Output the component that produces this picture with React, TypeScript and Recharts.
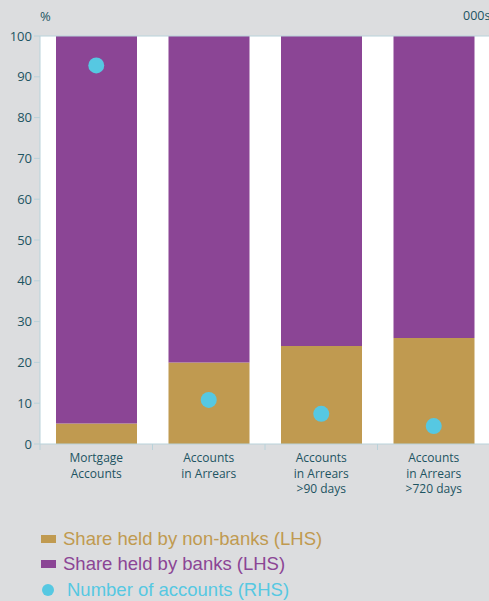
import { ComposedChart, Bar, Line, XAxis, YAxis, CartesianGrid, ReferenceLine } from "recharts";

const categories = [
  "Mortgage\nAccounts",
  "Accounts\nin Arrears",
  "Accounts\nin Arrears\n>90 days",
  "Accounts\nin Arrears\n>720 days",
];
const nonBanks = [5, 20, 24, 26];
const banks = [95, 80, 76, 74];
const accounts = [92.8, 10.8, 7.4, 4.4];
const leftTicks = [0, 10, 20, 30, 40, 50, 60, 70, 80, 90, 100];

const data = categories.map((name, i) => ({
  name,
  nonBanks: nonBanks[i],
  banks: banks[i],
  accounts: accounts[i],
}));

const BG = "#dcdddf";
const AXIS = "#b9d2da";
const TEXT = "#1d5462";
const TAN = "#c09a50";
const PURPLE = "#8b4595";
const CYAN = "#56c8e2";
const BAND = 112.5;

function CategoryTick(props: any) {
  const { x, y, payload } = props;
  const lines = String(payload.value).split("\n");
  return (
    <g>
      <line x1={x - BAND / 2} x2={x - BAND / 2} y1={y - 8} y2={y - 2} stroke={AXIS} />
      <text x={x} y={y + 10} textAnchor="middle" fill={TEXT} fontSize={12} fontFamily="Open Sans">
        {lines.map((l, i) => (
          <tspan key={i} x={x} dy={i === 0 ? 0 : 15.5}>
            {l}
          </tspan>
        ))}
      </text>
    </g>
  );
}

export default function App() {
  return (
    <div style={{ position: "absolute", left: 0, top: 0, width: 489, height: 601, background: BG, overflow: "hidden" }}>
      <div style={{ position: "absolute", left: 40, top: 7, fontFamily: "Open Sans", fontSize: 13, color: TEXT }}>%</div>
      <div style={{ position: "absolute", left: 463, top: 7, fontFamily: "Open Sans", fontSize: 12.5, color: TEXT }}>000s</div>
      <ComposedChart
        width={490}
        height={510}
        data={data}
        margin={{ top: 36, right: 0, left: 0, bottom: 0 }}
        barSize={81}
      >
        <CartesianGrid fill="#ffffff" horizontal={false} vertical={false} />
        <XAxis
          dataKey="name"
          height={66}
          axisLine={{ stroke: AXIS }}
          tickLine={false}
          interval={0}
          tick={<CategoryTick />}
        />
        <YAxis
          yAxisId="left"
          width={40}
          domain={[0, 100]}
          ticks={leftTicks}
          interval={0}
          axisLine={{ stroke: AXIS }}
          tickLine={{ stroke: AXIS }}
          tickSize={6}
          tick={{ fill: TEXT, fontSize: 13, fontFamily: "Open Sans" }}
        />
        <YAxis yAxisId="right" orientation="right" domain={[0, 100]} hide />
        <ReferenceLine yAxisId="left" y={100} stroke={AXIS} />
        <Bar yAxisId="left" dataKey="nonBanks" stackId="a" fill={TAN} isAnimationActive={false} />
        <Bar yAxisId="left" dataKey="banks" stackId="a" fill={PURPLE} isAnimationActive={false} />
        <Line
          yAxisId="right"
          dataKey="accounts"
          stroke="none"
          strokeWidth={0}
          dot={{ r: 8, fill: CYAN, stroke: "none" }}
          activeDot={false}
          isAnimationActive={false}
        />
      </ComposedChart>
      <div style={{ position: "absolute", left: 41, top: 526, fontFamily: "Liberation Sans", fontSize: 18.5 }}>
        <div style={{ display: "flex", alignItems: "center", height: 25.5, color: TAN }}>
          <span style={{ width: 15, height: 8, background: TAN, marginRight: 7 }} />
          Share held by non-banks (LHS)
        </div>
        <div style={{ display: "flex", alignItems: "center", height: 25.5, color: PURPLE }}>
          <span style={{ width: 15, height: 8, background: PURPLE, marginRight: 7 }} />
          Share held by banks (LHS)
        </div>
        <div style={{ display: "flex", alignItems: "center", height: 25.5, color: CYAN }}>
          <span style={{ width: 12, height: 12, borderRadius: 6, background: CYAN, marginLeft: 1, marginRight: 13 }} />
          Number of accounts (RHS)
        </div>
      </div>
    </div>
  );
}
